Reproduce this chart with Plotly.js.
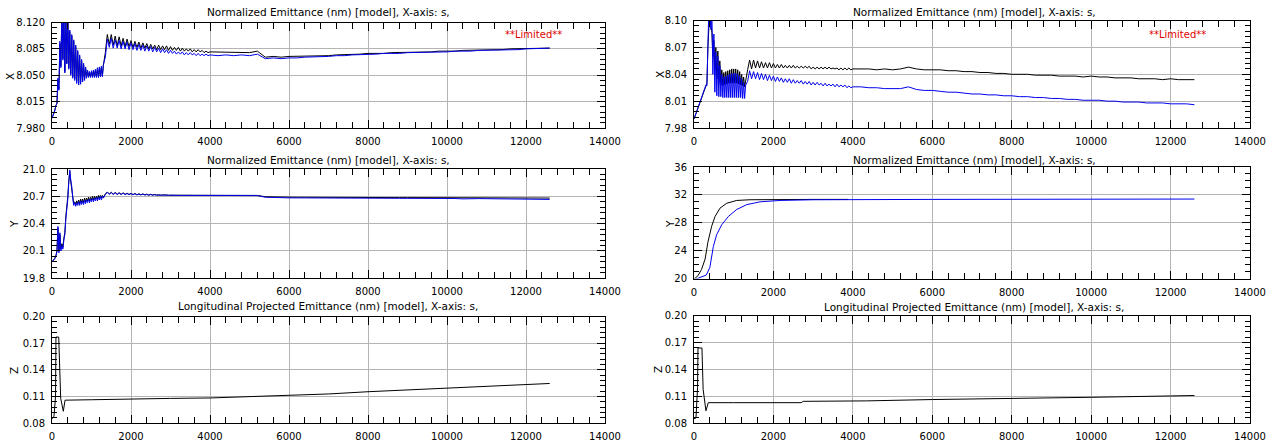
<!DOCTYPE html>
<html>
<head>
<meta charset="utf-8">
<script src="https://cdn.plot.ly/plotly-3.0.1.min.js"></script>
<style>html,body{margin:0;padding:0;background:#fff;}#chart{width:1278px;height:444px;}</style>
</head>
<body>
<div id="chart"></div>
<script>
// ---- shared sample positions s (X and Y panels) ----
const s_grid = [
 0,25,50,75,100,125,150,175,200,225,250,275,300,
 325,350,375,400,425,450,475,500,525,550,575,600,
 625,650,675,700,725,750,775,800,825,850,875,900,
 925,950,975,1000,1025,1050,1075,1100,1125,1150,1175,1200,
 1225,1250,1275,1300,
 1350,1400,1450,1500,1550,1600,1650,1700,1750,1800,1850,1900,
 1950,2000,2050,2100,2150,2200,2250,2300,2350,2400,2450,2500,
 2550,2600,2650,2700,2750,2800,2850,2900,2950,3000,3050,3100,
 3150,3200,3250,3300,3350,3400,3450,3500,3550,3600,3650,3700,
 3750,3800,3850,3900,3950,4000,
 4200,4400,4600,4800,5000,5200,5400,5600,5800,6000,
 6200,6400,6600,6800,7000,7200,7400,7600,7800,8000,
 8200,8400,8600,8800,9000,9200,9400,9600,9800,10000,
 10200,10400,10600,10800,11000,11200,11400,11600,11800,12000,
 12200,12400,12600];

// ---- left column, X emittance ----
const xL_black = [
 7.993,7.996,8.000,8.004,8.010,8.013,8.044,8.032,8.092,8.062,8.135,8.072,8.135,
 8.055,8.135,8.066,8.128,8.060,8.108,8.052,8.102,8.048,8.095,8.045,8.088,
 8.042,8.081,8.040,8.075,8.041,8.069,8.043,8.064,8.045,8.060,8.047,8.056,
 8.048,8.054,8.048,8.055,8.048,8.056,8.048,8.057,8.048,8.059,8.048,8.060,
 8.049,8.061,8.049,8.063,
 8.080,8.104,8.091,8.104,8.090,8.102,8.089,8.101,8.089,8.099,8.088,8.098,
 8.088,8.096,8.087,8.095,8.087,8.094,8.086,8.093,8.086,8.092,8.085,8.091,
 8.085,8.090,8.084,8.090,8.084,8.089,8.084,8.089,8.083,8.088,8.083,8.087,
 8.083,8.087,8.082,8.086,8.082,8.085,8.082,8.085,8.081,8.084,8.081,8.084,
 8.081,8.083,8.080,8.082,8.080,8.081,
 8.081,8.081,8.080,8.081,8.080,8.082,8.074,8.075,8.074,8.075,
 8.075,8.075,8.076,8.076,8.076,8.077,8.077,8.078,8.078,8.079,
 8.079,8.079,8.080,8.080,8.080,8.081,8.081,8.081,8.082,8.082,
 8.082,8.083,8.083,8.083,8.084,8.084,8.084,8.085,8.085,8.085,
 8.086,8.086,8.086];
const xL_blue = [
 7.993,7.996,8.000,8.004,8.010,8.012,8.046,8.030,8.095,8.060,8.135,8.070,8.135,
 8.053,8.135,8.065,8.130,8.058,8.110,8.050,8.104,8.046,8.097,8.043,8.090,
 8.039,8.083,8.037,8.077,8.038,8.071,8.041,8.066,8.043,8.061,8.046,8.057,
 8.047,8.055,8.047,8.056,8.047,8.057,8.047,8.058,8.047,8.060,8.047,8.061,
 8.048,8.062,8.048,8.064,
 8.074,8.098,8.087,8.099,8.086,8.097,8.086,8.096,8.085,8.095,8.085,8.094,
 8.084,8.093,8.084,8.092,8.083,8.091,8.083,8.090,8.082,8.089,8.082,8.088,
 8.081,8.087,8.081,8.086,8.080,8.085,8.080,8.084,8.079,8.083,8.079,8.082,
 8.078,8.081,8.078,8.081,8.077,8.080,8.077,8.080,8.077,8.079,8.076,8.079,
 8.076,8.078,8.076,8.078,8.076,8.077,
 8.076,8.077,8.076,8.077,8.076,8.078,8.072,8.073,8.072,8.073,
 8.073,8.074,8.074,8.075,8.075,8.076,8.076,8.077,8.077,8.078,
 8.078,8.079,8.079,8.079,8.080,8.080,8.080,8.081,8.081,8.081,
 8.082,8.082,8.082,8.083,8.083,8.083,8.084,8.084,8.084,8.085,
 8.085,8.085,8.086];

// ---- right column, X emittance ----
const xR_black = [
 7.990,7.993,7.997,7.999,8.003,8.006,8.009,8.012,8.016,8.019,8.022,8.025,8.028,
 8.030,8.070,8.115,8.115,8.095,8.087,8.060,8.078,8.045,8.070,8.035,8.066,
 8.030,8.055,8.028,8.045,8.027,8.042,8.028,8.043,8.029,8.044,8.030,8.045,
 8.030,8.046,8.030,8.046,8.030,8.046,8.030,8.045,8.029,8.043,8.028,8.040,
 8.027,8.037,8.026,8.034,
 8.045,8.056,8.046,8.056,8.047,8.055,8.047,8.054,8.047,8.053,8.047,8.053,
 8.047,8.052,8.047,8.051,8.047,8.051,8.047,8.050,8.047,8.050,8.047,8.050,
 8.047,8.049,8.047,8.049,8.047,8.049,8.047,8.049,8.046,8.048,8.046,8.048,
 8.046,8.048,8.046,8.048,8.046,8.048,8.046,8.047,8.046,8.047,8.045,8.047,
 8.045,8.047,8.045,8.047,8.045,8.046,
 8.046,8.046,8.045,8.046,8.045,8.046,8.048,8.046,8.045,8.045,
 8.045,8.044,8.044,8.043,8.043,8.042,8.042,8.041,8.041,8.040,
 8.040,8.040,8.039,8.039,8.039,8.038,8.038,8.038,8.037,8.038,
 8.037,8.037,8.036,8.036,8.036,8.035,8.035,8.035,8.034,8.035,
 8.034,8.034,8.034];
const xR_blue = [
 7.990,7.993,7.997,7.999,8.003,8.006,8.009,8.012,8.016,8.019,8.022,8.025,8.028,
 8.027,8.060,8.115,8.115,8.090,8.110,8.040,8.085,8.020,8.065,8.016,8.060,
 8.015,8.050,8.015,8.040,8.014,8.037,8.014,8.038,8.014,8.039,8.014,8.040,
 8.014,8.041,8.014,8.041,8.014,8.041,8.014,8.040,8.014,8.038,8.014,8.035,
 8.013,8.031,8.013,8.028,
 8.032,8.044,8.035,8.043,8.035,8.042,8.034,8.041,8.034,8.040,8.033,8.039,
 8.033,8.038,8.032,8.037,8.032,8.036,8.031,8.035,8.031,8.035,8.030,8.034,
 8.030,8.033,8.030,8.033,8.029,8.032,8.029,8.032,8.028,8.031,8.028,8.031,
 8.028,8.030,8.027,8.030,8.027,8.029,8.027,8.029,8.026,8.029,8.026,8.028,
 8.026,8.028,8.025,8.027,8.025,8.026,
 8.026,8.025,8.025,8.024,8.024,8.024,8.026,8.023,8.022,8.022,
 8.021,8.020,8.020,8.019,8.018,8.018,8.017,8.017,8.016,8.016,
 8.015,8.015,8.014,8.014,8.013,8.013,8.012,8.012,8.011,8.011,
 8.011,8.010,8.010,8.009,8.009,8.009,8.008,8.008,8.008,8.007,
 8.007,8.007,8.006];

// ---- left column, Y emittance ----
const yL_black = [
 19.98,19.99,20.01,20.02,20.05,20.10,20.35,20.10,20.28,20.12,20.18,20.14,20.24,
 20.30,20.48,20.58,20.70,20.87,20.97,20.86,20.78,20.66,20.62,20.64,20.61,
 20.65,20.62,20.66,20.62,20.67,20.63,20.67,20.63,20.68,20.64,20.68,20.65,
 20.69,20.65,20.69,20.66,20.70,20.66,20.70,20.67,20.70,20.67,20.71,20.68,
 20.71,20.68,20.71,20.69,
 20.725,20.748,20.725,20.745,20.724,20.742,20.723,20.740,20.722,20.738,20.721,20.735,
 20.720,20.733,20.720,20.730,20.718,20.728,20.718,20.726,20.716,20.724,20.715,20.722,
 20.714,20.720,20.714,20.718,20.713,20.716,20.713,20.715,20.712,20.714,20.712,20.712,
 20.712,20.712,20.712,20.712,20.712,20.712,20.712,20.712,20.712,20.712,20.712,20.712,
 20.712,20.712,20.712,20.712,20.712,20.712,
 20.712,20.710,20.712,20.710,20.712,20.710,20.695,20.692,20.690,20.690,
 20.690,20.690,20.689,20.689,20.689,20.688,20.688,20.688,20.688,20.688,
 20.687,20.687,20.687,20.686,20.686,20.686,20.686,20.685,20.685,20.685,
 20.685,20.684,20.684,20.684,20.683,20.683,20.683,20.682,20.682,20.682,
 20.682,20.681,20.681];
const yL_blue = [
 19.98,19.99,20.01,20.02,20.05,20.09,20.37,20.08,20.30,20.10,20.16,20.12,20.22,
 20.28,20.45,20.54,20.67,20.85,20.99,20.88,20.81,20.68,20.60,20.63,20.59,
 20.63,20.60,20.64,20.60,20.65,20.61,20.65,20.61,20.66,20.62,20.66,20.63,
 20.67,20.63,20.67,20.64,20.68,20.64,20.68,20.65,20.69,20.65,20.69,20.66,
 20.70,20.66,20.70,20.68,
 20.720,20.745,20.720,20.740,20.720,20.740,20.720,20.735,20.720,20.735,20.720,20.730,
 20.720,20.730,20.715,20.730,20.715,20.725,20.715,20.725,20.715,20.720,20.712,20.720,
 20.712,20.718,20.712,20.716,20.712,20.715,20.711,20.714,20.711,20.712,20.710,20.710,
 20.710,20.710,20.710,20.710,20.710,20.710,20.710,20.710,20.710,20.710,20.710,20.710,
 20.710,20.710,20.710,20.710,20.710,20.710,
 20.712,20.708,20.712,20.708,20.712,20.708,20.690,20.685,20.685,20.683,
 20.683,20.683,20.682,20.682,20.682,20.682,20.681,20.681,20.681,20.682,
 20.678,20.684,20.678,20.684,20.678,20.684,20.678,20.680,20.680,20.679,
 20.676,20.672,20.676,20.675,20.674,20.673,20.672,20.671,20.670,20.669,
 20.668,20.667,20.666];

// ---- right column, Y emittance ----
const yR_black_s = [0,100,190,280,350,445,530,655,825,1075,1410,2000,3000,3880];
const yR_black   = [19.9,20.4,21.3,22.8,25.2,27.5,28.9,30.1,30.8,31.2,31.3,31.35,31.35,31.35];
const yR_blue_s  = [0,100,230,310,400,445,487,571,697,865,1075,1327,1663,2167,3000,6000,9000,12600];
const yR_blue    = [19.8,20.0,20.3,20.5,21.6,23.2,24.6,26.3,27.7,28.9,29.9,30.6,31.0,31.2,31.3,31.35,31.4,31.4];

// ---- longitudinal (Z) emittance ----
const zL_s = [0,50,90,100,170,185,220,286,330,1000,2000,3000,4000,5000,6000,7000,8000,9000,10000,11000,12000,12600];
const zL   = [0.085,0.088,0.110,0.177,0.177,0.144,0.108,0.0935,0.106,0.1065,0.1075,0.108,0.1085,0.110,0.1115,0.113,0.1155,0.1175,0.1195,0.1215,0.1235,0.1248];
const zR_s = [0,50,90,100,200,230,300,360,1000,2700,2750,4300,4350,6000,8000,10000,12000,12600];
const zR   = [0.085,0.086,0.120,0.164,0.164,0.118,0.094,0.103,0.103,0.103,0.1045,0.1045,0.105,0.1065,0.1075,0.109,0.1105,0.111];

// ---- text ----
const titleNorm = 'Normalized Emittance (nm) [model], X-axis: s,';
const titleLong = 'Longitudinal Projected Emittance (nm) [model], X-axis: s,';
const limitedText = '**Limited**';
const axisNames = ['X','Y','Z'];

// ---- styling / layout ----
const W = 1278, H = 444;
const FONT = {family: 'DejaVu Sans, Liberation Sans, sans-serif', size: 10, color: '#000'};
const BLACK = '#000000', BLUE = '#0000ee';
const px = v => v / W, py = v => 1 - v / H;

function xax(x0, x1, anchor) {
  return {domain:[px(x0), px(x1)], anchor, range:[0,14000], tickmode:'linear', tick0:0, dtick:2000,
    tickformat:'d',
    ticks:'inside', ticklen:8, tickcolor:'#000', showline:true, linecolor:'#000', linewidth:1,
    mirror:'allticks', showgrid:true, gridcolor:'#b4b4b4', gridwidth:1, zeroline:false,
    tickfont:FONT, ticklabelstandoff:4, fixedrange:true,
    minor:{ticks:'inside', ticklen:6, tick0:0, dtick:400, tickcolor:'#000', showgrid:false}};
}
function yax(y0, y1, anchor, range, dtick, mdtick, fmt) {
  return {domain:[py(y1), py(y0)], anchor, range, tickmode:'linear', tick0:range[0], dtick,
    tickformat:fmt, ticks:'inside', ticklen:8, tickcolor:'#000', showline:true, linecolor:'#000', linewidth:1,
    mirror:'allticks', showgrid:true, gridcolor:'#b4b4b4', gridwidth:1, zeroline:false,
    tickfont:FONT, ticklabelstandoff:4, fixedrange:true,
    minor:{ticks:'inside', ticklen:5, tick0:range[0], dtick:mdtick, tickcolor:'#000', showgrid:false}};
}

const LX0 = 52, LX1 = 605, RX0 = 694, RX1 = 1250;
const layout = {
  width: W, height: H, margin:{l:0,r:0,t:0,b:0}, showlegend:false,
  paper_bgcolor:'#fff', plot_bgcolor:'#fff', font: FONT,
  xaxis:  xax(LX0, LX1, 'y'),
  yaxis:  yax(22.5, 128, 'x', [7.98, 8.12], 0.035, 0.007, '.3f'),
  xaxis2: xax(RX0, RX1, 'y2'),
  yaxis2: yax(20.6, 128, 'x2', [7.98, 8.10], 0.03, 0.006, '.2f'),
  xaxis3: xax(LX0, LX1, 'y3'),
  yaxis3: yax(169, 278.3, 'x3', [19.8, 21.0], 0.3, 0.06, '.1f'),
  xaxis4: xax(RX0, RX1, 'y4'),
  yaxis4: yax(167, 278.5, 'x4', [20, 36], 4, 1, 'd'),
  xaxis5: xax(LX0, LX1, 'y5'),
  yaxis5: yax(316.6, 423.3, 'x5', [0.08, 0.20], 0.03, 0.006, '.2f'),
  xaxis6: xax(RX0, RX1, 'y6'),
  yaxis6: yax(315.7, 423.3, 'x6', [0.08, 0.20], 0.03, 0.006, '.2f'),
  annotations: []
};

function ann(text, x, y, opts) {
  layout.annotations.push(Object.assign({text, x:px(x), y:py(y), xref:'paper', yref:'paper',
    showarrow:false, xanchor:'center', yanchor:'middle', font:Object.assign({}, FONT, {size:10.5})}, opts || {}));
}
ann(titleNorm, 328, 12);
ann(titleNorm, 974, 12);
ann(titleNorm, 328, 160);
ann(titleNorm, 974, 160);
ann(titleLong, 328, 306);
ann(titleLong, 974, 307);
ann(limitedText, 533, 35, {font:{family:FONT.family, size:10, color:'#e00000'}});
ann(limitedText, 1177, 34, {font:{family:FONT.family, size:10, color:'#e00000'}});
ann(axisNames[0], 10, 77, {textangle:-90});
ann(axisNames[0], 660, 75, {textangle:-90});
ann(axisNames[1], 14, 224, {textangle:-90});
ann(axisNames[1], 670, 224, {textangle:-90});
ann(axisNames[2], 14, 371, {textangle:-90});
ann(axisNames[2], 658, 370, {textangle:-90});

function line(x, y, color, xa, ya) {
  return {type:'scatter', mode:'lines', x, y, xaxis:xa, yaxis:ya,
    line:{color, width:1}, hoverinfo:'skip'};
}
const data = [
  line(s_grid, xL_black, BLACK, 'x', 'y'),
  line(s_grid, xL_blue, BLUE, 'x', 'y'),
  line(s_grid, xR_black, BLACK, 'x2', 'y2'),
  line(s_grid, xR_blue, BLUE, 'x2', 'y2'),
  line(s_grid, yL_black, BLACK, 'x3', 'y3'),
  line(s_grid, yL_blue, BLUE, 'x3', 'y3'),
  line(yR_black_s, yR_black, BLACK, 'x4', 'y4'),
  line(yR_blue_s, yR_blue, BLUE, 'x4', 'y4'),
  line(zL_s, zL, BLACK, 'x5', 'y5'),
  line(zR_s, zR, BLACK, 'x6', 'y6')
];
Plotly.newPlot('chart', data, layout, {displayModeBar:false, staticPlot:true});
</script>
</body>
</html>
